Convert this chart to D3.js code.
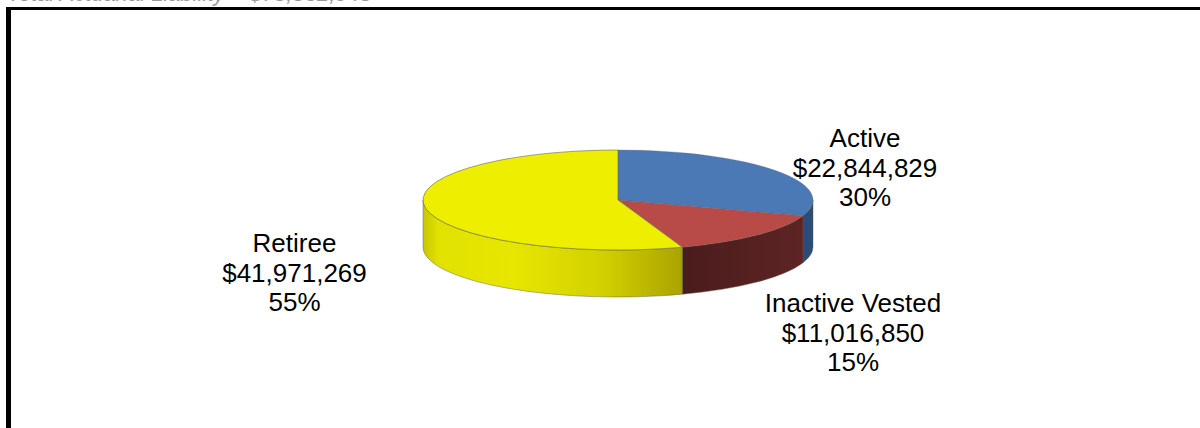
<!DOCTYPE html>
<html>
<head>
<meta charset="utf-8">
<script src="https://cdn.jsdelivr.net/npm/d3@7"></script>
<style>
  html, body { margin: 0; padding: 0; background: #fff; }
  svg { display: block; }
</style>
</head>
<body>
<svg id="chart" width="1200" height="428"></svg>
<script>
// Liability breakdown by participant status
const categories = ["Active", "Inactive Vested", "Retiree"];
const values = [22844829, 11016850, 41971269];
const titleText = "Total Actuarial Liability = $75,832,948";

const topColors = ["#4a79b6", "#b84b47", "#eeee00"];
const sideColors = [["#1d3a62", "#2b4b78"], ["#5e2424", "#4a1c1c"], null];

const W = 1200, H = 428;
const cx = 618, cy = 200, rx = 195, ry = 50, depth = 47;

const svg = d3.select("#chart");
const defs = svg.append("defs");

// frame: heavy top rule and left bar
svg.append("rect").attr("x", 6).attr("y", 7).attr("width", W - 6).attr("height", 3).attr("fill", "#000");
svg.append("rect").attr("x", 6).attr("y", 7).attr("width", 5).attr("height", H - 7).attr("fill", "#000");

// title line sits mostly above the frame
svg.append("text")
  .attr("x", 372).attr("y", 1)
  .attr("text-anchor", "end")
  .attr("font-family", "'Liberation Sans', Arial, sans-serif")
  .attr("font-style", "italic")
  .attr("font-size", 22)
  .attr("fill", "#9a9a9a")
  .text(titleText);

const pie = d3.pie().sort(null).startAngle(0).endAngle(2 * Math.PI);
const arcs = pie(values);

// angle measured clockwise from 12 o'clock, projected onto the tilted ellipse
const px = a => cx + rx * Math.sin(a);
const py = a => cy - ry * Math.cos(a);

function topPath(a0, a1) {
  const large = (a1 - a0) > Math.PI ? 1 : 0;
  return `M${cx},${cy} L${px(a0)},${py(a0)} A${rx},${ry} 0 ${large} 1 ${px(a1)},${py(a1)} Z`;
}
function sidePath(a0, a1) {
  const large = (a1 - a0) > Math.PI ? 1 : 0;
  return `M${px(a0)},${py(a0)} A${rx},${ry} 0 ${large} 1 ${px(a1)},${py(a1)}` +
         ` L${px(a1)},${py(a1) + depth} A${rx},${ry} 0 ${large} 0 ${px(a0)},${py(a0) + depth} Z`;
}

// yellow side shading
const yg = defs.append("linearGradient").attr("id", "sideYellow")
  .attr("gradientUnits", "userSpaceOnUse")
  .attr("x1", cx - rx).attr("x2", px(arcs[1].endAngle)).attr("y1", 0).attr("y2", 0);
[[0, "#c6c600"], [0.06, "#e2e200"], [0.35, "#e6e600"], [0.7, "#d2cf00"], [1, "#aaa300"]]
  .forEach(([o, c]) => yg.append("stop").attr("offset", o).attr("stop-color", c));

sideColors.forEach((sc, i) => {
  if (!sc) return;
  const g = defs.append("linearGradient").attr("id", "side" + i)
    .attr("gradientUnits", "userSpaceOnUse")
    .attr("x1", px(arcs[i].startAngle)).attr("x2", px(arcs[i].endAngle)).attr("y1", 0).attr("y2", 0);
  g.append("stop").attr("offset", 0).attr("stop-color", sc[0]);
  g.append("stop").attr("offset", 1).attr("stop-color", sc[1]);
});

// side walls: only the front half (between 90° and 270°) is visible
const front0 = Math.PI / 2, front1 = 3 * Math.PI / 2;
const sides = svg.append("g");
arcs.forEach((d, i) => {
  const a0 = Math.max(d.startAngle, front0);
  const a1 = Math.min(d.endAngle, front1);
  if (a1 <= a0) return;
  sides.append("path")
    .attr("d", sidePath(a0, a1))
    .attr("fill", i === 2 ? "url(#sideYellow)" : `url(#side${i})`)
    .attr("stroke", "rgba(90,90,70,0.55)")
    .attr("stroke-width", 0.8);
});

// top faces
const tops = svg.append("g");
arcs.forEach((d, i) => {
  tops.append("path")
    .attr("d", topPath(d.startAngle, d.endAngle))
    .attr("fill", topColors[i])
    .attr("stroke", i === 2 ? "rgba(110,110,80,0.8)" : "rgba(90,90,90,0.35)")
    .attr("stroke-width", 0.8)
    .attr("stroke-linejoin", "round");
});

// data labels
const total = d3.sum(values);
const fmtMoney = d3.format("$,");
const fmtPct = d3.format(".0%");
const labelPos = { "Active": [865, 147], "Inactive Vested": [853, 312], "Retiree": [294.5, 252] };
const lineH = 29.5;

categories.forEach((c, i) => {
  const [lx, ly] = labelPos[c];
  const t = svg.append("text")
    .attr("x", lx).attr("y", ly)
    .attr("text-anchor", "middle")
    .attr("font-family", "'Liberation Sans', Arial, sans-serif")
    .attr("font-size", 26)
    .attr("fill", "#000");
  [c, fmtMoney(values[i]), fmtPct(values[i] / total)].forEach((s, k) => {
    t.append("tspan").attr("x", lx).attr("dy", k === 0 ? 0 : lineH).text(s);
  });
});
</script>
</body>
</html>
